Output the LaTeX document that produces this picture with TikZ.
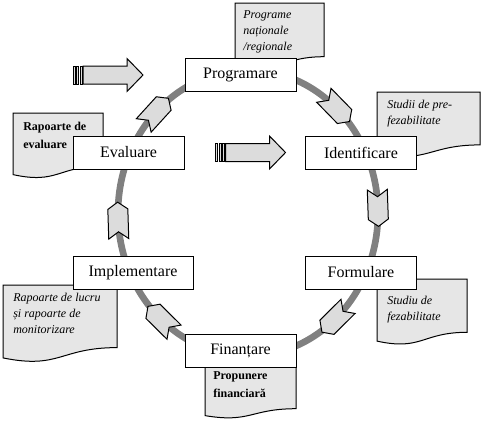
\documentclass[tikz,border=0pt]{standalone}
\usepackage{fontspec}
\setmainfont{Liberation Serif}
\usetikzlibrary{calc,shapes.symbols}

\definecolor{ringgrau}{HTML}{808080}
\definecolor{pfeilgrau}{HTML}{DCDCDC}
\definecolor{dokgrau}{HTML}{E6E6E6}

\tikzset{
  ring/.style={draw=ringgrau, line width=5pt},
  phase/.style={draw, fill=white, line width=0.75pt, inner sep=0pt,
    minimum width=83.25pt, minimum height=24.75pt, font=\fontsize{12}{14}\selectfont},
  ringpfeil/.style={signal, signal from=west, signal to=east, signal pointer angle=110,
    draw, fill=pfeilgrau, line width=0.75pt, inner xsep=8.5pt, inner ysep=7.5pt},
  pfeil/.style={draw, fill=pfeilgrau, line width=0.75pt},
  dokument/.style={draw, fill=dokgrau, line width=0.75pt},
  doktext/.style={anchor=north west, inner sep=0pt, align=left, font=\fontsize{9}{12}\selectfont\itshape},
  dokfett/.style={anchor=north west, inner sep=0pt, align=left, font=\fontsize{9}{13.5}\selectfont\bfseries}
}

\begin{document}
\begin{tikzpicture}[x=0.75pt,y=0.75pt,yscale=-1,xscale=1]
  \useasboundingbox (0,0) rectangle (482,426);

  % Ring
  \coordinate (mitte) at (248,213);
  \draw[ring] (mitte) ellipse [x radius=130, y radius=143];

  % Dokument Programe
  \draw[dokument] (235,3) -- (324,3) -- (324,56.7) .. controls (279.5,56.7) and (279.5,75.6) .. (235,65.6) -- cycle;
  % Dokument Studii
  \draw[dokument] (377,92) -- (480,92) -- (480,144.9) .. controls (428.5,144.9) and (428.5,163.5) .. (377,153.6) -- cycle;
  % Dokument Rapoarte de evaluare
  \draw[dokument] (13,113) -- (103,113) -- (103,166) .. controls (58,166) and (58,184.5) .. (13,174.6) -- cycle;
  % Dokument Rapoarte de lucru
  \draw[dokument] (3,285) -- (117,285) -- (117,347.6) .. controls (60,347.6) and (60,369.5) .. (3,357.9) -- cycle;
  % Dokument Propunere
  \draw[dokument] (205,367) -- (296,367) -- (296,408.7) .. controls (250.5,408.7) and (250.5,423.3) .. (205,415.6) -- cycle;
  % Dokument Studiu
  \draw[dokument] (377,279) -- (467,279) -- (467,332.3) .. controls (422,332.3) and (422,351) .. (377,341.1) -- cycle;

  % Texte der Dokumente
  \node[doktext] (tprogr) at (243,10) {Programe\\naționale\\/regionale};
  \node[doktext] (tstudii) at (387,100) {Studii de pre-\\fezabilitate};
  \node[dokfett] (teval) at (23,122) {Rapoarte de\\evaluare};
  \node[doktext] (tlucru) at (13,293) {Rapoarte de lucru\\și rapoarte de\\monitorizare};
  \node[dokfett] (tprop) at (213,371) {Propunere\\financiară};
  \node[doktext] (tstudiu) at (387,296) {Studiu de\\fezabilitate};

  % Phasen
  \node[phase] (programare) at (240.5,74.5) {Programare};
  \node[phase] (identificare) at (361,152.5) {Identificare};
  \node[phase] (formulare) at (361,272.5) {Formulare};
  \node[phase] (finantare) at (240.5,350.5) {Finanțare};
  \node[phase, minimum width=90pt] (implementare) at (133,272.5) {Implementare};
  \node[phase] (evaluare) at (128.5,152.5) {Evaluare};

  % Pfeile auf dem Ring
  \node[ringpfeil, rotate=-45.7] (rp1) at ($(mitte)+(-47:130 and 143)$) {};
  \node[ringpfeil, rotate=-88] (rp2) at ($(mitte)+(-2:130 and 143)$) {};
  \node[ringpfeil, rotate=-135.3] (rp3) at ($(mitte)+(48:130 and 143)$) {};
  \node[ringpfeil, rotate=135.3] (rp4) at ($(mitte)+(132:130 and 143)$) {};
  \node[ringpfeil, rotate=91.8] (rp5) at ($(mitte)+(177:130 and 143)$) {};
  \node[ringpfeil, rotate=47.7] (rp6) at ($(mitte)+(-135:130 and 143)$) {};

  % Pfeil links oben
  \draw[pfeil] (83,66) -- (127,66) -- (127,58.5) -- (143,75) -- (127,91.5) -- (127,84) -- (83,84) -- cycle;
  \draw[pfeil] (73,66) rectangle (75,84);
  \draw[pfeil] (76.5,66) rectangle (78.5,84);
  \draw[pfeil] (80,66) rectangle (82,84);
  % Pfeil Mitte
  \draw[pfeil] (225.5,143.5) -- (269.5,143.5) -- (269.5,136) -- (285.5,152.5) -- (269.5,169) -- (269.5,161.5) -- (225.5,161.5) -- cycle;
  \draw[pfeil] (215.5,143.5) rectangle (217.5,161.5);
  \draw[pfeil] (219,143.5) rectangle (221,161.5);
  \draw[pfeil] (222.5,143.5) rectangle (224.5,161.5);
\end{tikzpicture}
\end{document}
